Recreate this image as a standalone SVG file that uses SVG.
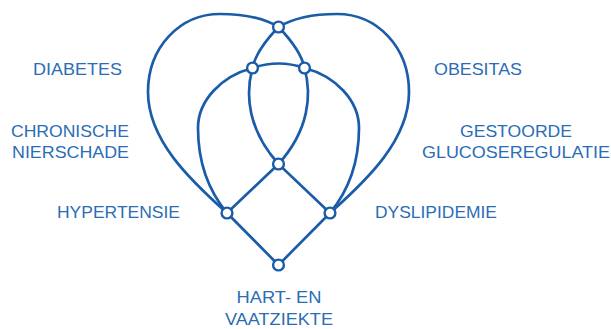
<svg xmlns="http://www.w3.org/2000/svg" width="611" height="329" viewBox="0 0 611 329">
<style>
.c{fill:none;stroke:#1b5ca8;stroke-width:2.7;stroke-linecap:round}
.n{fill:#fff;stroke:#1b5ca8;stroke-width:2.4}
.t{font-family:"Liberation Sans",Arial,sans-serif;font-size:16.5px;fill:#2a6db5;text-anchor:middle}
</style>
<rect width="611" height="329" fill="#fff"/>
<g id="connectors">
<path class="c" d="M278.5,27 C262,17 242,14 220,14 C180,14 148,47 148,92 C148,140 190,180 227,213"/>
<path class="c" d="M278.5,27 C295,17 315,14 337,14 C377,14 409,47 409,92 C409,140 367,180 330,213"/>
<path class="c" d="M278.5,27 C266,40 255,55 252.5,68 C245,95 248,130 278.5,164"/>
<path class="c" d="M278.5,27 C291,40 302,55 304.5,68 C312,95 309,130 278.5,164"/>
<path class="c" d="M252.5,68 Q278.5,59 304.5,68"/>
<path class="c" d="M252.5,68 C222,76 198,100 198,128 C198,160 208,190 227,213"/>
<path class="c" d="M304.5,68 C335,76 359,100 359,128 C359,160 349,190 330,213"/>
<path class="c" d="M278.5,164 L227,213 L278.5,265 L330,213 Z"/>
</g>
<g id="node-top"><circle class="n" cx="278.5" cy="27" r="5.4"/></g>
<g id="node-upper-left"><circle class="n" cx="252.5" cy="68" r="5.4"/></g>
<g id="node-upper-right"><circle class="n" cx="304.5" cy="68" r="5.4"/></g>
<g id="node-center"><circle class="n" cx="278.5" cy="164" r="5.4"/></g>
<g id="node-left"><circle class="n" cx="227" cy="213" r="5.4"/></g>
<g id="node-right"><circle class="n" cx="330" cy="213" r="5.4"/></g>
<g id="node-bottom"><circle class="n" cx="278.5" cy="265" r="5.4"/></g>
<g id="labels">
<text class="t" x="77.5" y="75" textLength="89" lengthAdjust="spacingAndGlyphs">DIABETES</text>
<text class="t" x="70" y="137" textLength="118" lengthAdjust="spacingAndGlyphs">CHRONISCHE</text>
<text class="t" x="70.5" y="158" textLength="117" lengthAdjust="spacingAndGlyphs">NIERSCHADE</text>
<text class="t" x="118.5" y="218" textLength="123" lengthAdjust="spacingAndGlyphs">HYPERTENSIE</text>
<text class="t" x="478" y="75" textLength="88" lengthAdjust="spacingAndGlyphs">OBESITAS</text>
<text class="t" x="516" y="137" textLength="112" lengthAdjust="spacingAndGlyphs">GESTOORDE</text>
<text class="t" x="516" y="158" textLength="188" lengthAdjust="spacingAndGlyphs">GLUCOSEREGULATIE</text>
<text class="t" x="436" y="218" textLength="122" lengthAdjust="spacingAndGlyphs">DYSLIPIDEMIE</text>
<text class="t" x="279" y="303" textLength="85" lengthAdjust="spacingAndGlyphs">HART- EN</text>
<text class="t" x="279" y="325" textLength="108" lengthAdjust="spacingAndGlyphs">VAATZIEKTE</text>
</g>
</svg>
